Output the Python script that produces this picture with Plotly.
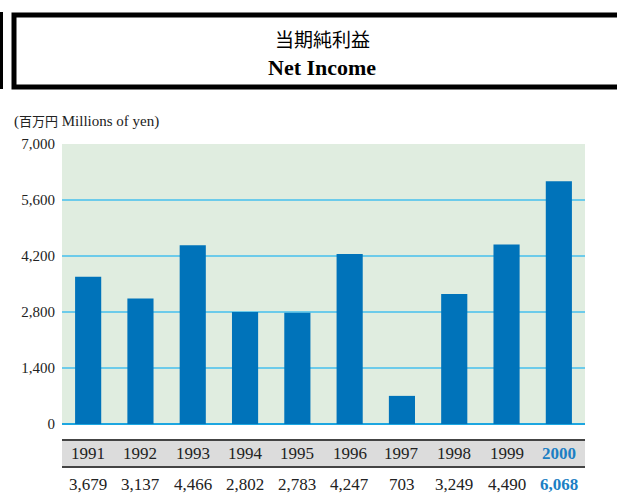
import plotly.graph_objects as go

years = ["1991", "1992", "1993", "1994", "1995", "1996", "1997", "1998", "1999", "2000"]
net_income = [3679, 3137, 4466, 2802, 2783, 4247, 703, 3249, 4490, 6068]
value_labels = ["3,679", "3,137", "4,466", "2,802", "2,783", "4,247", "703", "3,249", "4,490", "6,068"]
y_ticks = [0, 1400, 2800, 4200, 5600, 7000]

W, H = 617, 494
L, R, T, B = 62, 32, 144, 70
PW, PH = W - L - R, H - T - B

def px(x):
    return (x - L) / PW

def py(y):
    return (H - B - y) / PH

BLUE = "#0073BA"
SERIF = "Liberation Serif, Times New Roman, serif"

fig = go.Figure()
fig.add_trace(go.Bar(x=list(range(len(years))), y=net_income, marker_color=BLUE,
                     marker_line_width=0, width=0.5, hoverinfo="skip"))

shapes = []
shapes.append(dict(type="rect", xref="x", yref="paper", x0=-0.5, x1=9.5,
                   y0=py(467), y1=py(440), fillcolor="#DCDCDC", line_width=0, layer="below"))
shapes.append(dict(type="line", xref="x", yref="paper", x0=-0.5, x1=9.5,
                   y0=py(440), y1=py(440), line=dict(color="#444", width=2)))
shapes.append(dict(type="line", xref="x", yref="paper", x0=-0.5, x1=9.5,
                   y0=py(467), y1=py(467), line=dict(color="#444", width=2)))
shapes.append(dict(type="rect", xref="paper", yref="paper", x0=px(14), x1=px(625),
                   y0=py(87), y1=py(15), line=dict(color="black", width=5), fillcolor="white"))
shapes.append(dict(type="line", xref="paper", yref="paper", x0=px(1.5), x1=px(1.5),
                   y0=py(89), y1=py(12), line=dict(color="black", width=3)))

annotations = []
for i, (yr, v) in enumerate(zip(years, value_labels)):
    last = i == len(years) - 1
    col = "#1B7FC4" if last else "#222"
    yr_txt = f"<b>{yr}</b>" if last else yr
    v_txt = f"<b>{v}</b>" if last else v
    annotations.append(dict(x=i, y=py(453), xref="x", yref="paper", text=yr_txt, showarrow=False,
                            font=dict(family=SERIF, size=17, color=col), yanchor="middle"))
    annotations.append(dict(x=i, y=py(484), xref="x", yref="paper", text=v_txt, showarrow=False,
                            font=dict(family=SERIF, size=17, color=col), yanchor="middle"))

annotations.append(dict(x=px(322), y=py(38), xref="paper", yref="paper", text="当期純利益",
                        showarrow=False, font=dict(family="Noto Sans CJK JP", size=19, color="black"),
                        yanchor="middle"))
annotations.append(dict(x=px(322), y=py(67), xref="paper", yref="paper", text="<b>Net Income</b>",
                        showarrow=False, font=dict(family=SERIF, size=22, color="black"),
                        yanchor="middle"))
annotations.append(dict(x=px(12), y=py(120), xref="paper", yref="paper",
                        text="(<span style='font-family:Noto Sans CJK JP;font-size:13px'>百万円</span> Millions of yen)",
                        showarrow=False, font=dict(family=SERIF, size=15, color="#222"),
                        xanchor="left", yanchor="middle"))

fig.update_layout(
    width=W, height=H,
    margin=dict(l=L, r=R, t=T, b=B),
    paper_bgcolor="white", plot_bgcolor="#E0EDE0",
    showlegend=False,
    bargap=0.5,
    shapes=shapes, annotations=annotations,
    xaxis=dict(range=[-0.5, 9.5], showticklabels=False, showgrid=False, zeroline=False,
               showline=False, ticks="", fixedrange=True),
    yaxis=dict(range=[0, 7000], tickvals=y_ticks, tickformat=",", showgrid=True,
               gridcolor="#6CCBEA", gridwidth=1.5, zeroline=True, zerolinecolor="#1DA6E0",
               zerolinewidth=2, showline=False, ticks="", ticklabelstandoff=6,
               tickfont=dict(family=SERIF, size=15, color="#222"), fixedrange=True),
)

fig.write_html("out.html", config={"displayModeBar": False},
               post_script="document.body.style.margin='0';document.body.style.overflow='hidden';")
